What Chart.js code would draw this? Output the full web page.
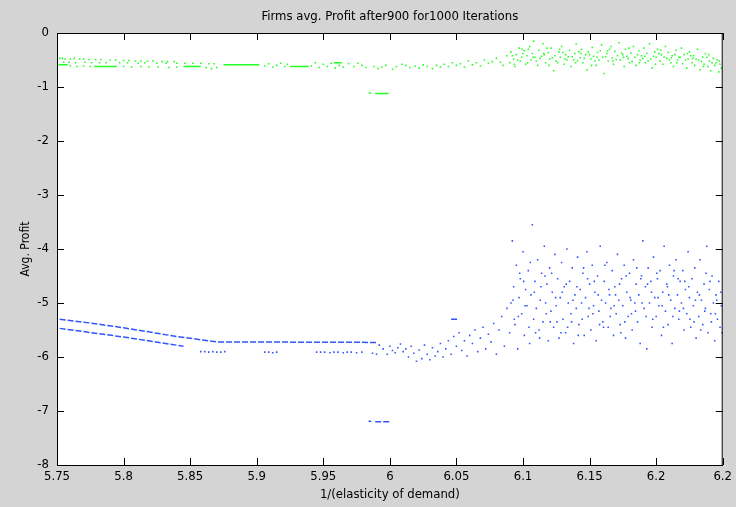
<!DOCTYPE html>
<html>
<head>
<meta charset="utf-8">
<script src="https://cdn.jsdelivr.net/npm/chart.js@4/dist/chart.umd.min.js"></script>
<style>
  html, body { margin: 0; padding: 0; background: #d4d4d4; }
  canvas { display: block; }
</style>
</head>
<body>
<canvas id="c" width="736" height="507"></canvas>
<script>
// axis ticks
const xTickVals = [5.75, 5.8, 5.85, 5.9, 5.95, 6.0, 6.05, 6.1, 6.15, 6.2, 6.25];
const xTickLabels = ['5.75', '5.8', '5.85', '5.9', '5.95', '6', '6.05', '6.1', '6.15', '6.2', '6.2'];
const yTickVals = [0, -1, -2, -3, -4, -5, -6, -7, -8];

// firm 1 (green): dense runs, then single iterations
const greenRuns = [
  [[5.751, -0.587], [5.758, -0.587]],
  [[5.778, -0.62], [5.795, -0.62]],
  [[5.845, -0.62], [5.858, -0.62]],
  [[5.875, -0.587], [5.902, -0.587]],
  [[5.925, -0.62], [5.939, -0.62]],
  [[5.958, -0.55], [5.964, -0.55]],
  [[5.984, -1.11], [5.986, -1.11]],
  [[5.989, -1.12], [5.999, -1.12]]
];
const greenDots = [
  [5.752, -0.47], [5.754, -0.47], [5.756, -0.48], [5.760, -0.48], [5.763, -0.47], [5.767, -0.48], [5.770, -0.48],
  [5.774, -0.49], [5.779, -0.49], [5.783, -0.49], [5.790, -0.50], [5.794, -0.50], [5.800, -0.51], [5.804, -0.51],
  [5.809, -0.52], [5.813, -0.52], [5.818, -0.52], [5.822, -0.52], [5.829, -0.53], [5.833, -0.53], [5.838, -0.53],
  [5.755, -0.54], [5.759, -0.54], [5.764, -0.55], [5.771, -0.54], [5.776, -0.55], [5.782, -0.55], [5.787, -0.55],
  [5.797, -0.55], [5.803, -0.55], [5.811, -0.56], [5.816, -0.55], [5.825, -0.56], [5.832, -0.56], [5.840, -0.56],
  [5.846, -0.56], [5.852, -0.56], [5.858, -0.56], [5.864, -0.57], [5.868, -0.57],
  [5.760, -0.61], [5.765, -0.62], [5.770, -0.61], [5.775, -0.62], [5.800, -0.62], [5.806, -0.63], [5.813, -0.62],
  [5.819, -0.63], [5.826, -0.63], [5.834, -0.64], [5.840, -0.63], [5.862, -0.64], [5.866, -0.66], [5.870, -0.64],
  [5.906, -0.61], [5.909, -0.57], [5.912, -0.63], [5.915, -0.60], [5.918, -0.56], [5.921, -0.62], [5.923, -0.58],
  [5.941, -0.61], [5.944, -0.55], [5.947, -0.64], [5.950, -0.58], [5.953, -0.62], [5.956, -0.56], [5.959, -0.65],
  [5.962, -0.60], [5.965, -0.63], [5.969, -0.57], [5.973, -0.62], [5.976, -0.56], [5.979, -0.60], [5.982, -0.64],
  [5.988, -0.62], [5.991, -0.66], [5.994, -0.63], [5.997, -0.60],
  [6.002, -0.67], [6.005, -0.62], [6.009, -0.58], [6.012, -0.60], [6.015, -0.64], [6.019, -0.61], [6.022, -0.65],
  [6.025, -0.59], [6.028, -0.62], [6.032, -0.66], [6.035, -0.60], [6.038, -0.63], [6.041, -0.58], [6.044, -0.62],
  [6.047, -0.55], [6.050, -0.60], [6.053, -0.57], [6.056, -0.63], [6.059, -0.52], [6.062, -0.59], [6.065, -0.55],
  [6.068, -0.61], [6.071, -0.50], [6.074, -0.56], [6.077, -0.53], [6.080, -0.47], [6.083, -0.54], [6.085, -0.60],
  [6.088, -0.42],
  [6.090, -0.55], [6.091, -0.35], [6.093, -0.48], [6.094, -0.62], [6.095, -0.40], [6.097, -0.28], [6.098, -0.52],
  [6.099, -0.45], [6.101, -0.33], [6.102, -0.58], [6.103, -0.42], [6.105, -0.25], [6.106, -0.50], [6.107, -0.38],
  [6.108, -0.15], [6.109, -0.45], [6.111, -0.60], [6.112, -0.32], [6.113, -0.47], [6.115, -0.20], [6.116, -0.40],
  [6.117, -0.55], [6.119, -0.36], [6.120, -0.48], [6.121, -0.28], [6.123, -0.70], [6.124, -0.42], [6.125, -0.52],
  [6.127, -0.35], [6.128, -0.45], [6.129, -0.25], [6.131, -0.58], [6.132, -0.40], [6.133, -0.50], [6.135, -0.32],
  [6.136, -0.62], [6.137, -0.44], [6.139, -0.38], [6.140, -0.20], [6.141, -0.52], [6.143, -0.46], [6.144, -0.30],
  [6.145, -0.55], [6.147, -0.40], [6.148, -0.68], [6.149, -0.35], [6.151, -0.48], [6.152, -0.27], [6.153, -0.43],
  [6.155, -0.60], [6.156, -0.36], [6.157, -0.50], [6.159, -0.22], [6.160, -0.45], [6.161, -0.75], [6.163, -0.38],
  [6.164, -0.52], [6.165, -0.30], [6.167, -0.46], [6.168, -0.58], [6.169, -0.34], [6.171, -0.42], [6.172, -0.18],
  [6.173, -0.50], [6.175, -0.40], [6.176, -0.62], [6.177, -0.30], [6.179, -0.47], [6.180, -0.55], [6.181, -0.37],
  [6.183, -0.25], [6.184, -0.45], [6.185, -0.60], [6.187, -0.33], [6.188, -0.50], [6.189, -0.42], [6.191, -0.28],
  [6.192, -0.55], [6.193, -0.38], [6.195, -0.20], [6.196, -0.48], [6.197, -0.65], [6.199, -0.35], [6.200, -0.45],
  [6.201, -0.30], [6.203, -0.52], [6.204, -0.40], [6.205, -0.58], [6.207, -0.25], [6.208, -0.47], [6.209, -0.36],
  [6.211, -0.55], [6.212, -0.42], [6.213, -0.62], [6.215, -0.32], [6.216, -0.50], [6.217, -0.45], [6.219, -0.28],
  [6.220, -0.57], [6.221, -0.40], [6.223, -0.65], [6.224, -0.48], [6.225, -0.35], [6.227, -0.55], [6.228, -0.42],
  [6.229, -0.60], [6.231, -0.30], [6.232, -0.50], [6.233, -0.68], [6.235, -0.45], [6.236, -0.58], [6.237, -0.38],
  [6.239, -0.62], [6.240, -0.52], [6.241, -0.70], [6.243, -0.47], [6.244, -0.60], [6.245, -0.55], [6.247, -0.72],
  [6.248, -0.58], [6.249, -0.65],
  [6.092, -0.42], [6.096, -0.50], [6.100, -0.38], [6.104, -0.30], [6.110, -0.52], [6.114, -0.43], [6.118, -0.28],
  [6.122, -0.46], [6.126, -0.55], [6.130, -0.36], [6.134, -0.44], [6.138, -0.50], [6.142, -0.35], [6.146, -0.47],
  [6.150, -0.40], [6.154, -0.52], [6.158, -0.33], [6.162, -0.44], [6.166, -0.25], [6.170, -0.49], [6.174, -0.37],
  [6.178, -0.43], [6.182, -0.53], [6.186, -0.40], [6.190, -0.47], [6.194, -0.52], [6.198, -0.43], [6.202, -0.38],
  [6.206, -0.45], [6.210, -0.50], [6.214, -0.40], [6.218, -0.45], [6.222, -0.50], [6.226, -0.42], [6.230, -0.48],
  [6.234, -0.53], [6.238, -0.45], [6.242, -0.55], [6.246, -0.50],
  [6.0935, -0.58], [6.0995, -0.30], [6.1035, -0.55], [6.1075, -0.45], [6.1155, -0.38], [6.1195, -0.60], [6.1275, -0.30],
  [6.1315, -0.48], [6.1395, -0.55], [6.1435, -0.38], [6.1515, -0.60], [6.1555, -0.45], [6.1635, -0.33], [6.1675, -0.52],
  [6.1755, -0.45], [6.1795, -0.28], [6.1875, -0.55], [6.1915, -0.43], [6.1995, -0.58], [6.2035, -0.32], [6.2115, -0.46],
  [6.2155, -0.55], [6.2235, -0.38], [6.2275, -0.47], [6.2355, -0.62], [6.2395, -0.40], [6.2475, -0.52]
];

// firm 2 (blue)
const blueRuns = [
  [[5.752, -5.30], [5.775, -5.37], [5.800, -5.46], [5.840, -5.62], [5.870, -5.72], [5.990, -5.73]],
  [[5.752, -5.47], [5.800, -5.63], [5.845, -5.80]],
  [[5.984, -7.19], [5.986, -7.19]],
  [[5.989, -7.20], [6.001, -7.20]],
  [[6.046, -5.30], [6.051, -5.30]]
];
const blueDots = [
  [5.858, -5.90], [5.861, -5.90], [5.864, -5.91], [5.867, -5.90], [5.870, -5.91], [5.873, -5.91], [5.876, -5.90],
  [5.906, -5.91], [5.909, -5.91], [5.912, -5.92], [5.915, -5.91],
  [5.945, -5.91], [5.948, -5.91], [5.951, -5.91], [5.955, -5.92], [5.958, -5.91], [5.961, -5.91], [5.965, -5.92],
  [5.968, -5.91], [5.971, -5.91], [5.975, -5.92], [5.979, -5.91], [5.987, -5.93], [5.990, -5.95],
  [5.992, -5.78], [5.995, -5.85], [5.998, -5.95], [6.000, -5.80], [6.002, -5.88], [6.004, -5.92], [6.006, -5.83],
  [6.008, -5.76], [6.010, -5.90], [6.012, -5.85], [6.014, -6.00], [6.016, -5.80], [6.018, -5.93], [6.020, -6.08],
  [6.022, -5.87], [6.024, -6.03], [6.026, -5.78], [6.028, -5.95], [6.030, -6.05], [6.032, -5.83], [6.034, -5.98],
  [6.036, -5.90], [6.038, -5.75], [6.040, -6.00], [6.042, -5.85], [6.044, -5.70], [6.046, -5.95], [6.048, -5.62],
  [6.050, -5.80], [6.052, -5.55], [6.054, -5.88], [6.056, -5.70], [6.058, -5.98], [6.060, -5.60], [6.062, -5.75],
  [6.064, -5.50], [6.066, -5.90], [6.068, -5.65], [6.070, -5.45], [6.072, -5.85], [6.074, -5.58], [6.076, -5.72],
  [6.078, -5.38], [6.080, -5.95], [6.082, -5.50], [6.084, -5.25], [6.086, -5.80], [6.088, -5.10], [6.090, -5.55],
  [6.091, -5.00], [6.092, -3.85], [6.093, -4.70], [6.094, -5.40], [6.095, -4.30], [6.096, -5.85], [6.097, -4.90],
  [6.098, -4.55], [6.099, -5.20], [6.100, -4.05], [6.101, -5.60], [6.102, -4.75], [6.103, -5.05], [6.104, -4.40],
  [6.105, -5.75], [6.106, -4.85], [6.107, -3.55], [6.108, -5.30], [6.109, -4.60], [6.110, -5.10], [6.111, -4.20],
  [6.112, -5.50], [6.113, -4.95], [6.114, -4.45], [6.115, -5.35], [6.116, -3.95], [6.117, -5.00], [6.118, -4.65],
  [6.119, -5.70], [6.120, -4.35], [6.121, -5.15], [6.122, -4.80], [6.123, -5.45], [6.124, -4.10], [6.125, -5.05],
  [6.126, -4.55], [6.127, -5.65], [6.128, -4.90], [6.129, -4.25], [6.130, -5.30], [6.131, -4.70], [6.132, -5.55],
  [6.133, -4.00], [6.134, -5.00], [6.135, -4.60], [6.136, -5.20], [6.137, -4.35], [6.138, -5.75], [6.139, -4.85],
  [6.140, -5.10], [6.141, -4.15], [6.142, -5.40], [6.143, -4.75], [6.144, -5.00], [6.145, -4.45], [6.146, -5.60],
  [6.147, -4.90], [6.148, -4.05], [6.149, -5.25], [6.150, -4.65], [6.151, -5.50], [6.152, -4.30], [6.153, -5.05],
  [6.154, -4.80], [6.155, -5.70], [6.156, -4.50], [6.157, -5.15], [6.158, -3.95], [6.159, -4.95], [6.160, -5.35],
  [6.161, -4.60], [6.162, -5.00], [6.163, -4.25], [6.164, -5.45], [6.165, -4.85], [6.166, -5.10], [6.167, -4.40],
  [6.168, -5.60], [6.169, -4.70], [6.170, -5.20], [6.171, -4.10], [6.172, -4.95], [6.173, -5.40], [6.174, -4.55],
  [6.175, -5.05], [6.176, -4.30], [6.177, -5.65], [6.178, -4.80], [6.179, -5.25], [6.180, -4.45], [6.181, -4.95],
  [6.182, -5.50], [6.183, -4.20], [6.184, -5.00], [6.185, -4.65], [6.186, -5.35], [6.187, -4.85], [6.188, -5.75],
  [6.189, -4.50], [6.190, -3.85], [6.191, -5.10], [6.192, -4.70], [6.193, -5.85], [6.194, -4.35], [6.195, -5.00],
  [6.196, -4.60], [6.197, -5.45], [6.198, -4.15], [6.199, -4.90], [6.200, -5.25], [6.201, -4.55], [6.202, -5.05],
  [6.203, -4.40], [6.204, -5.60], [6.205, -4.80], [6.206, -3.95], [6.207, -5.15], [6.208, -4.65], [6.209, -5.40],
  [6.210, -4.30], [6.211, -4.95], [6.212, -5.75], [6.213, -4.50], [6.214, -5.10], [6.215, -4.20], [6.216, -4.85],
  [6.217, -5.30], [6.218, -4.60], [6.219, -5.00], [6.220, -4.40], [6.221, -5.50], [6.222, -4.75], [6.223, -5.20],
  [6.224, -4.05], [6.225, -4.90], [6.226, -5.45], [6.227, -4.55], [6.228, -5.05], [6.229, -4.35], [6.230, -5.65],
  [6.231, -4.80], [6.232, -5.25], [6.233, -4.20], [6.234, -4.95], [6.235, -5.40], [6.236, -4.65], [6.237, -5.10],
  [6.238, -3.95], [6.239, -5.55], [6.240, -4.75], [6.241, -5.20], [6.242, -4.50], [6.243, -5.00], [6.244, -5.70],
  [6.245, -4.85], [6.246, -5.30], [6.247, -4.60], [6.248, -5.45], [6.249, -5.05],
  [6.0925, -4.95], [6.0965, -5.25], [6.1005, -4.60], [6.1045, -5.45], [6.1085, -4.80], [6.1125, -5.65], [6.1165, -4.50],
  [6.1205, -5.35], [6.1245, -4.90], [6.1285, -5.55], [6.1325, -4.65], [6.1365, -5.35], [6.1405, -4.70], [6.1445, -5.30],
  [6.1485, -4.55], [6.1525, -5.20], [6.1565, -4.85], [6.1605, -5.45], [6.1645, -4.75], [6.1685, -5.05], [6.1725, -4.65],
  [6.1765, -5.35], [6.1805, -4.90], [6.1845, -5.15], [6.1885, -4.55], [6.1925, -5.25], [6.1965, -4.80], [6.2005, -4.45],
  [6.2045, -5.05], [6.2085, -4.70], [6.2125, -5.25], [6.2165, -4.55], [6.2205, -5.10], [6.2245, -4.70], [6.2285, -5.35],
  [6.2325, -4.85], [6.2365, -5.15], [6.2405, -4.60], [6.2445, -5.20], [6.2485, -4.80],
  [6.0935, -5.30], [6.0975, -4.45], [6.1015, -5.05], [6.1055, -4.25], [6.1095, -5.55], [6.1135, -4.70], [6.1175, -5.20],
  [6.1215, -4.45], [6.1255, -5.35], [6.1295, -4.80], [6.1335, -5.45], [6.1375, -4.95], [6.1415, -5.60], [6.1455, -4.35],
  [6.1495, -5.10], [6.1535, -4.60], [6.1575, -5.40], [6.1615, -4.30], [6.1655, -5.25], [6.1695, -4.85], [6.1735, -5.55],
  [6.1775, -4.50], [6.1815, -5.20], [6.1855, -4.35], [6.1895, -5.00], [6.1935, -4.65], [6.1975, -5.30], [6.2015, -4.90],
  [6.2055, -5.45], [6.2095, -4.85], [6.2135, -4.40], [6.2175, -5.15], [6.2215, -4.60], [6.2255, -5.30], [6.2295, -4.95],
  [6.2335, -5.50], [6.2375, -4.45], [6.2415, -5.35], [6.2455, -4.95], [6.2495, -5.55]
];

const GREEN = '#22ff22';
const BLUE = '#3355ff';
const FONT = "'Liberation Sans Narrow', 'DejaVu Sans Condensed', 'Liberation Sans', sans-serif";

const toPts = arr => arr.map(([x, y]) => ({ x, y }));
const joinRuns = runs => runs.flatMap(r => [...toPts(r), { x: null, y: null }]);

function dotSet(pts, color) {
  return { data: toPts(pts), backgroundColor: color, borderWidth: 0, pointStyle: 'rect', pointRadius: 1.1, showLine: false };
}
function runSet(runs, color, dash) {
  return { data: joinRuns(runs), borderColor: color, borderWidth: 1.5, borderDash: dash, pointRadius: 0, showLine: true, spanGaps: false };
}

// grey figure, white axes, black box with inward ticks on all sides
const matFrame = {
  id: 'matFrame',
  beforeDraw(c) {
    const { ctx, chartArea: a } = c;
    ctx.save();
    ctx.fillStyle = '#d4d4d4';
    ctx.fillRect(0, 0, c.width, c.height);
    ctx.fillStyle = '#ffffff';
    ctx.fillRect(a.left, a.top, a.right - a.left, a.bottom - a.top);
    ctx.restore();
  },
  afterDraw(c) {
    const { ctx, chartArea: a, scales } = c;
    const len = 7;
    ctx.save();
    ctx.strokeStyle = '#000';
    ctx.lineWidth = 1;
    ctx.strokeRect(a.left + 0.5, a.top + 0.5, a.right - a.left - 1, a.bottom - a.top);
    ctx.beginPath();
    scales.x.ticks.forEach(t => {
      const px = Math.round(scales.x.getPixelForValue(t.value)) + 0.5;
      ctx.moveTo(px, a.bottom); ctx.lineTo(px, a.bottom - len);
      ctx.moveTo(px, a.top); ctx.lineTo(px, a.top + len);
    });
    scales.y.ticks.forEach(t => {
      const py = Math.round(scales.y.getPixelForValue(t.value)) + 0.5;
      ctx.moveTo(a.left, py); ctx.lineTo(a.left + len, py);
      ctx.moveTo(a.right, py); ctx.lineTo(a.right - len, py);
    });
    ctx.stroke();
    ctx.restore();
  }
};

new Chart(document.getElementById('c'), {
  type: 'scatter',
  data: {
    datasets: [
      runSet(greenRuns, GREEN, []),
      dotSet(greenDots, GREEN),
      runSet(blueRuns, BLUE, [6, 2]),
      dotSet(blueDots, BLUE)
    ]
  },
  options: {
    responsive: false,
    animation: false,
    devicePixelRatio: 1,
    layout: { padding: { top: 0, right: 6, left: 0, bottom: 0 } },
    plugins: {
      legend: { display: false },
      tooltip: { enabled: false },
      title: {
        display: true,
        fullSize: false,
        text: 'Firms avg. Profit after900 for1000 Iterations',
        color: '#000',
        font: { family: FONT, size: 13, weight: 'normal', lineHeight: 1.2 },
        padding: { top: 9, bottom: 8.4 }
      }
    },
    scales: {
      x: {
        type: 'linear',
        min: 5.75,
        max: 6.25,
        afterBuildTicks: s => { s.ticks = xTickVals.map(v => ({ value: v })); },
        afterFit: s => { s.height = 42; },
        grid: { drawOnChartArea: false, drawTicks: false },
        border: { color: '#000' },
        ticks: {
          color: '#000',
          padding: 4,
          maxRotation: 0,
          autoSkip: false,
          font: { family: FONT, size: 13 },
          callback: (v, i) => xTickLabels[i]
        },
        title: {
          display: true,
          text: '1/(elasticity of demand)',
          color: '#000',
          font: { family: FONT, size: 13 },
          padding: { top: 0, bottom: 5 }
        }
      },
      y: {
        type: 'linear',
        min: -8,
        max: 0,
        afterBuildTicks: s => { s.ticks = yTickVals.map(v => ({ value: v })); },
        afterFit: s => { s.width = 57; },
        grid: { drawOnChartArea: false, drawTicks: false },
        border: { color: '#000' },
        ticks: {
          color: '#000',
          padding: 8,
          autoSkip: false,
          font: { family: FONT, size: 13 },
          callback: v => String(v)
        },
        title: {
          display: true,
          text: 'Avg. Profit',
          color: '#000',
          font: { family: FONT, size: 12 },
          padding: { top: 19, bottom: 0 }
        }
      }
    }
  },
  plugins: [matFrame]
});
</script>
</body>
</html>
